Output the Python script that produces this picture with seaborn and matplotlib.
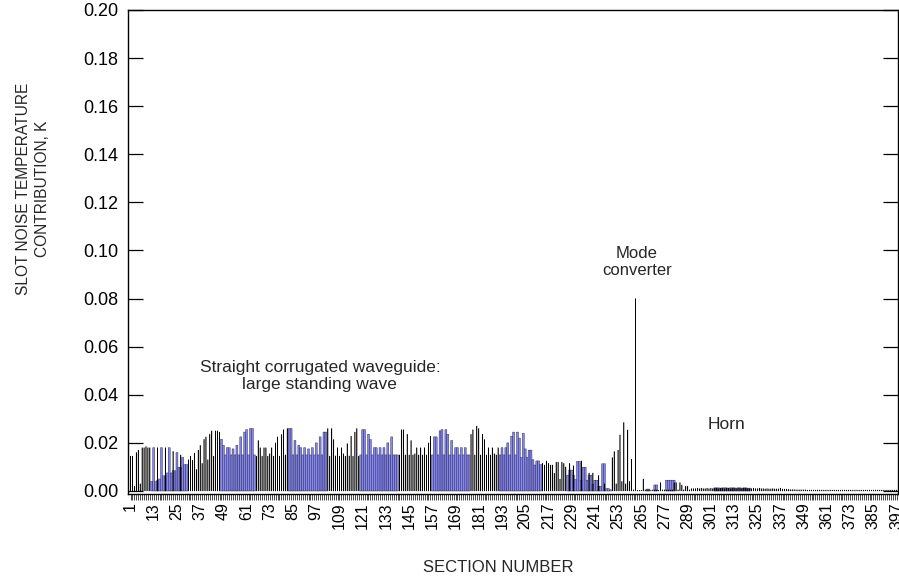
import numpy as np
import pandas as pd
import matplotlib
matplotlib.use("Agg")
import matplotlib.pyplot as plt
import seaborn as sns

# Sections along the feed (1..397)
sections = list(range(1, 398))

# Thin (white) bars: runs of values keyed by first section
line_runs = {
    1: [0.0145, 0.0145, 0.002, 0.016, 0.017, 0.003, 0.018, 0.018, 0.0185, 0.018, 0.018],
    31: [0.013, 0.0145, 0.0128, 0.0158, 0.009, 0.017, 0.019, 0.0115, 0.0215, 0.0225,
         0.013, 0.0236, 0.025, 0.0145, 0.025, 0.025, 0.0245],
    66: [0.0145, 0.021, 0.018, 0.0145, 0.018, 0.018, 0.0145, 0.0155, 0.018, 0.0145,
         0.020, 0.0225, 0.0145, 0.0235, 0.0255, 0.015, 0.026],
    103: [0.026, 0.0145, 0.026, 0.0214, 0.0146, 0.018, 0.0145, 0.018, 0.0155, 0.0145,
          0.0197, 0.0146, 0.0228, 0.0145, 0.0245, 0.026, 0.0145],
    140: [0.015, 0.0255, 0.0255, 0.015, 0.0236, 0.015, 0.021, 0.015, 0.0155, 0.018,
          0.015, 0.018, 0.015, 0.018, 0.015, 0.020, 0.0228],
    177: [0.0236, 0.0255, 0.015, 0.027, 0.026, 0.015, 0.0236, 0.0214, 0.015, 0.018,
          0.015, 0.018, 0.0155, 0.015, 0.018],
    214: [0.0115, 0.0108, 0.0125, 0.0115, 0.0108, 0.0108, 0.0074, 0.012, 0.012, 0.005,
          0.012, 0.0115, 0.010],
    250: [0.0139, 0.0164, 0.003, 0.017, 0.0233, 0.004, 0.0285, 0.003, 0.0254, 0.004,
          0.0132, 0.0005, 0.080, 0.0003, 0.0003, 0.0003, 0.005, 0.0005, 0.0005, 0.0005,
          0.0003, 0.0005, 0.0005, 0.0005, 0.0003, 0.0035, 0.0005, 0.0005, 0.0005, 0.0005,
          0.0005, 0.0005, 0.0035, 0.0035, 0.0005, 0.0035, 0.0025, 0.0005, 0.002, 0.002,
          0.0005, 0.001, 0.001, 0.001, 0.0012, 0.001, 0.0012, 0.001, 0.001, 0.0012, 0.001],
    301: [0.0012, 0.001, 0.0012, 0.0012, 0.001, 0.0012, 0.0012, 0.001, 0.0012, 0.0012,
          0.001, 0.0012, 0.0012, 0.001, 0.0012, 0.0012, 0.001, 0.0012, 0.0012, 0.001,
          0.001, 0.001, 0.0012, 0.001, 0.001, 0.0012, 0.001, 0.001, 0.0009, 0.001,
          0.0009, 0.0009, 0.001, 0.0009, 0.0009, 0.0009, 0.0012, 0.0008, 0.0008, 0.0008,
          0.0007, 0.0006, 0.0006, 0.0006, 0.0005, 0.0005, 0.0005, 0.0005, 0.0005, 0.0005,
          0.0004, 0.0004, 0.0004, 0.0004, 0.0004, 0.0004, 0.0004, 0.0004, 0.0004, 0.0004,
          0.0004, 0.0004, 0.0004, 0.0004, 0.0004, 0.0004, 0.0004, 0.0004, 0.0004, 0.0004,
          0.0004, 0.0004, 0.0004, 0.0004, 0.0004, 0.0004, 0.0004, 0.0004, 0.0004, 0.0004,
          0.0004, 0.0004, 0.0004, 0.0004, 0.0004, 0.0004, 0.0004, 0.0004, 0.0004, 0.0004,
          0.0004, 0.0004, 0.0004, 0.0004, 0.0004, 0.0004, 0.0004],
}
# taller thin bars standing inside the blue blocks
line_extra = {15: 0.018, 19: 0.018, 23: 0.0165, 27: 0.015,
              228: 0.0115, 230: 0.0105, 234: 0.0125, 238: 0.0075,
              240: 0.0075, 243: 0.0065, 246: 0.003}

# Blue bars (standing-wave blocks)
blue_runs = {
    12: [0.004, 0.018, 0.004, 0.0045, 0.005, 0.018, 0.0063, 0.0063, 0.0075, 0.018,
         0.0075, 0.0084, 0.0084, 0.016, 0.0099, 0.0099, 0.014, 0.011, 0.011],
    48: [0.0215, 0.019, 0.015, 0.018, 0.018, 0.015, 0.0175, 0.015, 0.019, 0.015,
         0.0225, 0.015, 0.0245, 0.0255, 0.015, 0.026, 0.026, 0.015],
    83: [0.026, 0.026, 0.015, 0.021, 0.015, 0.019, 0.018, 0.015, 0.018, 0.015,
         0.0175, 0.015, 0.018, 0.015, 0.020, 0.015, 0.0225, 0.015, 0.0245, 0.0245],
    120: [0.015, 0.0255, 0.0255, 0.015, 0.0236, 0.0214, 0.015, 0.018, 0.018, 0.015,
          0.018, 0.015, 0.018, 0.015, 0.020, 0.015, 0.0225, 0.015, 0.015, 0.015],
    157: [0.015, 0.0225, 0.0225, 0.015, 0.025, 0.0255, 0.015, 0.0255, 0.0236, 0.015,
          0.021, 0.015, 0.018, 0.018, 0.015, 0.018, 0.015, 0.018, 0.015, 0.015],
    192: [0.015, 0.018, 0.015, 0.018, 0.020, 0.015, 0.0228, 0.0245, 0.015, 0.0245,
          0.022, 0.014, 0.024, 0.0175, 0.014, 0.017, 0.017, 0.013, 0.0108, 0.0125,
          0.0125, 0.011],
    227: [0.0066, 0.0087, 0.0087, 0.0066, 0.0048, 0.0123, 0.0123, 0.0045, 0.0099, 0.0099,
          0.0045, 0.0066, 0.0066, 0.0028, 0.0045, 0.0045, 0.002, 0.002, 0.0113, 0.0113,
          0.001, 0.001, 0.0005],
    268: [0.0008, 0.0008],
    272: [0.0025, 0.0025],
    278: [0.0045, 0.0045, 0.0045, 0.0045, 0.0045],
    303: [0.0013, 0.0013, 0.0013, 0.0012, 0.0013, 0.0013, 0.0013, 0.0012, 0.0013, 0.0013,
          0.0013, 0.0012, 0.0013, 0.0013, 0.0012, 0.0013, 0.0013, 0.0012, 0.0012],
}

tick_sections = [1, 13, 25, 37, 49, 61, 73, 85, 97, 109, 121, 133, 145, 157, 169, 181,
                 193, 205, 217, 229, 241, 253, 265, 277, 289, 301, 313, 325, 337, 349,
                 361, 373, 385, 397]

# assemble the per-section table
line_vals = np.zeros(len(sections))
blue_vals = np.zeros(len(sections))
for start, vals in line_runs.items():
    line_vals[start - 1:start - 1 + len(vals)] = vals
for s, v in line_extra.items():
    line_vals[s - 1] = v
for start, vals in blue_runs.items():
    blue_vals[start - 1:start - 1 + len(vals)] = vals

df = pd.DataFrame({"section": sections, "line": line_vals, "blue": blue_vals})

sns.set_theme(style="white")
plt.rcParams["font.family"] = ["Liberation Sans", "DejaVu Sans"]

fig = plt.figure(figsize=(8.99, 5.82), dpi=100)
ax = fig.add_axes([128 / 899, 1 - 494 / 582, 770 / 899, 484 / 582])

sns.barplot(data=df[df["blue"] > 0], x="section", y="blue", order=sections,
            color="#8585ff", saturation=1, width=1.0, edgecolor="#202020",
            linewidth=0.3, errorbar=None, ax=ax, zorder=2, snap=False)
sns.barplot(data=df[df["line"] > 0], x="section", y="line", order=sections,
            color="white", saturation=1, width=0.12, edgecolor="black",
            linewidth=0.4, errorbar=None, ax=ax, zorder=3, snap=False)

ax.set_xlim(-1.3, 396.7)
ax.set_ylim(-0.00125, 0.2)

# x ticks: a small tick under every section, label every 12th
ax.set_xticks(range(len(sections)))
ax.set_xticklabels([str(s) if s in tick_sections else "" for s in sections],
                   rotation=90, fontsize=11.5)
ax.tick_params(axis="x", direction="out", length=4, width=0.5, pad=2,
               bottom=True, colors="black")

ax.set_yticks(np.arange(0, 0.201, 0.02))
ax.set_yticklabels([f"{v:.2f}" for v in np.arange(0, 0.201, 0.02)], fontsize=13)
ax.tick_params(axis="y", direction="in", length=10.5, width=0.9, pad=7,
               left=True, right=True, colors="black")

for sp in ax.spines.values():
    sp.set_color("black")
    sp.set_linewidth(1.0)

ax.set_xlabel("SECTION NUMBER", fontsize=12)
ax.set_ylabel("SLOT NOISE TEMPERATURE\nCONTRIBUTION, K", fontsize=11.2,
              linespacing=1.35)
ax.xaxis.set_label_coords(0.4805, -0.137)
ax.yaxis.set_label_coords(-0.101, 0.631)

ax.text(97.9, 0.0479, "Straight corrugated waveguide:\nlarge standing wave",
        ha="center", va="center", fontsize=12.5)
ax.text(261.8, 0.0952, "Mode\nconverter", ha="center", va="center", fontsize=12)
ax.text(308.2, 0.0275, "Horn", ha="center", va="center", fontsize=12.5)

fig.savefig("out.png", dpi=100)
